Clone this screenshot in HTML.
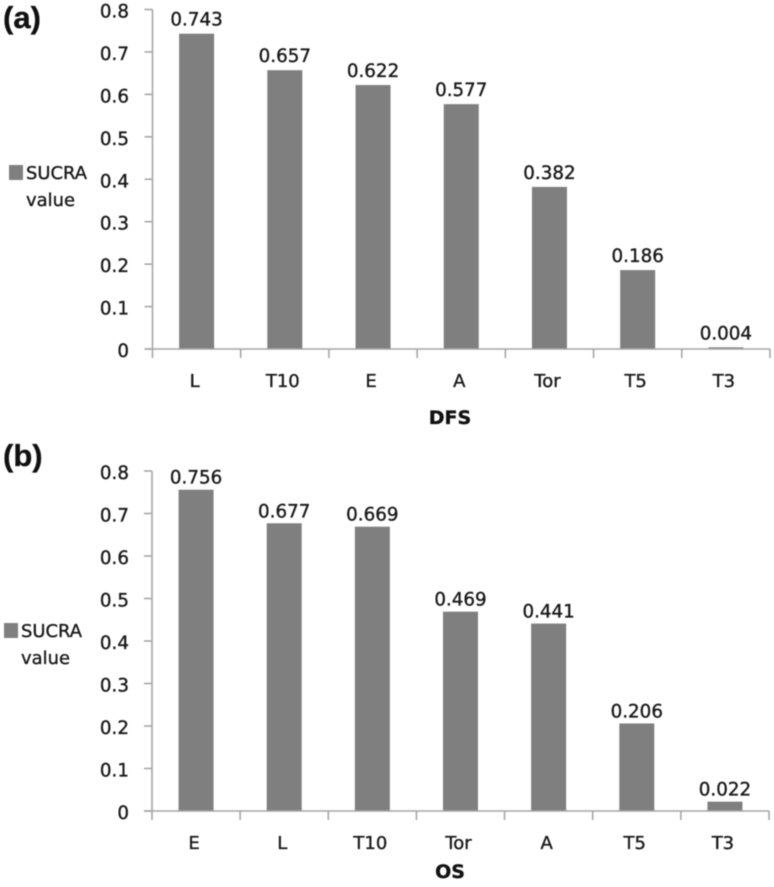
<!DOCTYPE html>
<html>
<head>
<meta charset="utf-8">
<style>
html,body{margin:0;padding:0;background:#fff;width:774px;height:887px;overflow:hidden}
svg{display:block;font-family:"DejaVu Sans","Liberation Sans",sans-serif;filter:blur(.4px)}
text{stroke:#111;stroke-width:.35px}
</style>
</head>
<body>
<svg id="figure" width="774" height="887" viewBox="0 0 774 887" xmlns="http://www.w3.org/2000/svg"></svg>
<script>
const categoriesA = ['L','T10','E','A','Tor','T5','T3'];
const valuesA = [0.743,0.657,0.622,0.577,0.382,0.186,0.004];
const categoriesB = ['E','L','T10','Tor','A','T5','T3'];
const valuesB = [0.756,0.677,0.669,0.469,0.441,0.206,0.022];
const yTickValues = [0,0.1,0.2,0.3,0.4,0.5,0.6,0.7,0.8];
const yTickLabels = ['0','0.1','0.2','0.3','0.4','0.5','0.6','0.7','0.8'];

const NS = 'http://www.w3.org/2000/svg';
const root = document.getElementById('figure');

function make(parent, tag, attrs, text) {
  const el = document.createElementNS(NS, tag);
  for (const k in attrs) el.setAttribute(k, attrs[k]);
  if (text !== undefined) el.textContent = text;
  parent.appendChild(el);
  return el;
}

function drawPanel(cfg) {
  const g = make(root, 'g', {});
  
  

  const y = v => cfg.y0 - (v / 0.8) * (cfg.y0 - cfg.yTop);
  const step = (cfg.xRight - cfg.x0) / cfg.categories.length;
  const xCenter = i => cfg.x0 + step * (i + 0.5);
  const barW = 35;

  const panelLabel = make(g, 'text', {x: 3, y: cfg.labelY, 'font-family': '"Liberation Sans",sans-serif', 'font-size': 31, 'font-weight': 700, fill: '#111'}, '(' + cfg.id + ')');
  
  

  cfg.categories.forEach((c, i) => {
    const bar = make(g, 'rect', {x: xCenter(i) - barW / 2, y: y(cfg.values[i]), width: barW, height: y(0) - y(cfg.values[i]), fill: '#7f7f7f'});
    
    

    const val = make(g, 'text', {x: xCenter(i), y: y(cfg.values[i]) - cfg.valueGap, 'text-anchor': 'middle', 'font-size': 18.3, fill: '#1a1a1a'}, cfg.values[i].toFixed(3));
    
    

    const cat = make(g, 'text', {x: xCenter(i) - 2, y: cfg.y0 + 38, 'text-anchor': 'middle', 'font-size': 18, fill: '#1a1a1a'}, c);
    
    
  });

  const yAxis = make(g, 'line', {x1: cfg.x0, x2: cfg.x0, y1: y(0.8), y2: y(0) + 9, stroke: '#a6a6a6', 'stroke-width': 1.6});
  
  

  const xAxis = make(g, 'line', {x1: cfg.x0 - 8, x2: cfg.xRight, y1: y(0), y2: y(0), stroke: '#a6a6a6', 'stroke-width': 1.6});
  
  

  yTickValues.forEach((v, i) => {
    const tick = make(g, 'line', {x1: cfg.x0 - 8, x2: cfg.x0, y1: y(v), y2: y(v), stroke: '#a6a6a6', 'stroke-width': 1.6});
    
    

    const lab = make(g, 'text', {x: 129, y: y(v) + 8, 'text-anchor': 'end', 'font-size': 18.3, fill: '#1a1a1a'}, yTickLabels[i]);
    
    
  });

  for (let i = 1; i <= cfg.categories.length; i++) {
    const tx = cfg.x0 + step * i;
    const tick = make(g, 'line', {x1: tx, x2: tx, y1: y(0), y2: y(0) + 9, stroke: '#a6a6a6', 'stroke-width': 1.6});
    
    
  }

  const title = make(g, 'text', {x: 450, y: cfg.y0 + cfg.titleDy, 'text-anchor': 'middle', 'font-size': 19, 'font-weight': 700, fill: '#111'}, cfg.title);
  
  

  const swatch = make(g, 'rect', {x: cfg.legendX, y: cfg.legendY, width: 14, height: 15, fill: '#7f7f7f'});
  
  

  const l1 = make(g, 'text', {x: cfg.legendX + 17, y: cfg.legendY + 14, 'font-size': 18, fill: '#1a1a1a', textLength: 61, lengthAdjust: 'spacingAndGlyphs'}, 'SUCRA');
  
  

  const l2 = make(g, 'text', {x: cfg.legendX + 17, y: cfg.legendY + 41, 'font-size': 18, fill: '#1a1a1a', textLength: 49, lengthAdjust: 'spacingAndGlyphs'}, 'value');
  
  
}

drawPanel({id: 'a', categories: categoriesA, values: valuesA, x0: 152.5, xRight: 770, y0: 349, yTop: 9.5, labelY: 28, title: 'DFS', titleDy: 75, legendX: 9, legendY: 165, valueGap: 8});
drawPanel({id: 'b', categories: categoriesB, values: valuesB, x0: 152, xRight: 769, y0: 811, yTop: 471, labelY: 466, title: 'OS', titleDy: 67, legendX: 4, legendY: 623, valueGap: 6});
</script>
</body>
</html>
